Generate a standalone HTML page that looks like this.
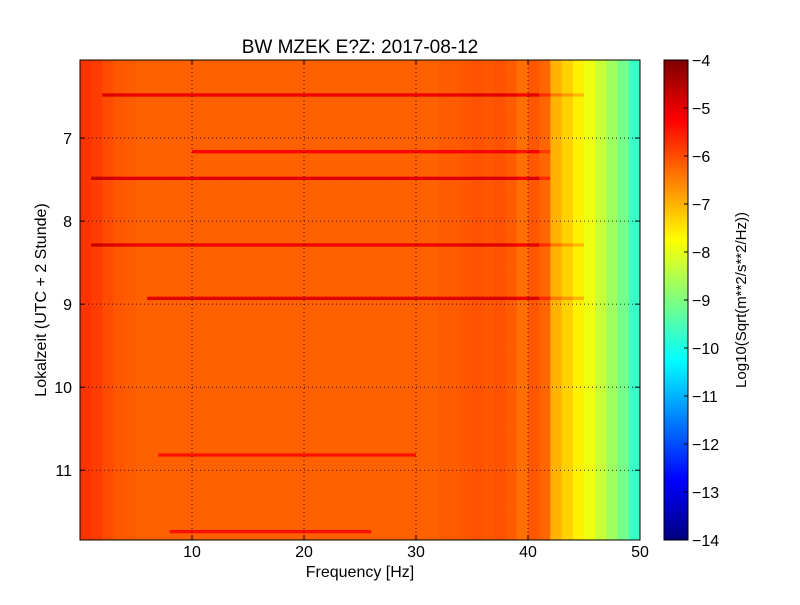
<!DOCTYPE html>
<html><head><meta charset="utf-8">
<style>
body{margin:0;background:#fff;}
#wrap{position:relative;width:800px;height:600px;font-family:"Liberation Sans",sans-serif;}
svg text{font-family:"Liberation Sans",sans-serif;}
</style></head>
<body>
<div id="wrap">
<svg id="svg" width="800" height="600" xmlns="http://www.w3.org/2000/svg">
<rect x="0" y="0" width="800" height="600" fill="#ffffff"/>
<g id="cells"></g>
<g id="cbar"></g>
<g id="axes"></g>
</svg>
</div>
<script>
// Data
const freqProfile = [-5.75,-5.85,-6.0,-6.1,-6.15,-6.2,-6.2,-6.2,-6.2,-6.2,
 -6.2,-6.2,-6.2,-6.2,-6.2,-6.2,-6.2,-6.2,-6.2,-6.2,
 -6.2,-6.2,-6.2,-6.2,-6.2,-6.2,-6.2,-6.2,-6.2,-6.2,
 -6.2,-6.2,-6.15,-6.15,-6.1,-6.05,-6.1,-6.05,-6.15,-6.35,
 -6.1,-6.25,-7.0,-7.3,-7.6,-7.9,-8.3,-8.7,-9.1,-9.7];
const lineTimes = [6.5, 7.16, 7.5, 8.28, 8.93, 10.82, 11.72];
const lineStart = [2, 10, 1, 1, 6, 7, 8];
const lineEnd = [45, 42, 42, 45, 45, 30, 26];
const lineStrength = [1.1, 0.9, 1.2, 1.1, 1.2, 0.8, 0.8];
const xTicks = [10, 20, 30, 40, 50];
const yTicks = [7, 8, 9, 10, 11];
const cTicks = [-4,-5,-6,-7,-8,-9,-10,-11,-12,-13,-14];

const X0=80,X1=640,Y0=60,Y1=540;
const F0=0,F1=50,T0=6.06,T1=11.84;
const xs=f=>X0+(f-F0)/(F1-F0)*(X1-X0);
const ys=t=>Y0+(t-T0)/(T1-T0)*(Y1-Y0);
const V0=-14,V1=-4;
function jet(v){
  let x=(v-V0)/(V1-V0); x=Math.max(0,Math.min(1,x));
  const c=t=>Math.round(255*Math.max(0,Math.min(1,t)));
  const r=c(Math.min(4*x-1.5,-4*x+4.5)),g=c(Math.min(4*x-0.5,-4*x+3.5)),b=c(Math.min(4*x+0.5,-4*x+2.5));
  return `rgb(${r},${g},${b})`;
}
const NS="http://www.w3.org/2000/svg";
function mk(tag,attrs,parent){const e=document.createElementNS(NS,tag);for(const k in attrs)e.setAttribute(k,attrs[k]);parent.appendChild(e);return e;}
const cells=document.getElementById('cells');
const nRows=144, dt=(T1-T0)/nRows;
for(let r=0;r<nRows;r++){
  const t=T0+r*dt;
  for(let i=0;i<freqProfile.length;i++){
    let v=freqProfile[i];
    for(let k=0;k<lineTimes.length;k++){
      if(Math.abs(t+dt/2-lineTimes[k])<dt*0.5 && i>=lineStart[k] && i<lineEnd[k]){
        const fade = i>40 ? 0.5 : 1;
        v+=lineStrength[k]*fade;
      }
    }
    const rc=mk('rect',{x:xs(i),y:ys(t),width:xs(i+1)-xs(i)+0.5,height:ys(t+dt)-ys(t)+0.5,fill:jet(v)},cells);
    
    
  }
}
// colorbar
const cb=document.getElementById('cbar');
const CX=664,CW=24;
for(let j=0;j<240;j++){
  const v=V1-(j+0.5)/240*(V1-V0);
  mk('rect',{x:CX,y:Y0+j*2,width:CW,height:2.5,fill:jet(v)},cb);
}
mk('rect',{x:CX,y:Y0,width:CW,height:Y1-Y0,fill:'none',stroke:'#000','stroke-width':1},cb);
cTicks.forEach(v=>{
  const y=Y0+(V1-v)/(V1-V0)*(Y1-Y0);
  mk('line',{x1:CX+CW-4,x2:CX+CW,y1:y,y2:y,stroke:'#000'},cb);
  const t=mk('text',{x:CX+CW+4,y:y+6,'font-size':16},cb);t.textContent='\u2212'+Math.abs(v);
  
  
});
const cl=mk('text',{x:746,y:300,'font-size':15,'text-anchor':'middle',transform:'rotate(-90 746 300)'},cb);
cl.textContent='Log10(Sqrt(m**2/s**2/Hz))';


// axes
const ax=document.getElementById('axes');
xTicks.forEach(f=>{
  const x=xs(f);
  if(f<F1) mk('line',{x1:x,x2:x,y1:Y0,y2:Y1,stroke:'#000','stroke-dasharray':'1,3','stroke-width':0.8},ax);
  mk('line',{x1:x,x2:x,y1:Y1,y2:Y1-5,stroke:'#000'},ax);
  mk('line',{x1:x,x2:x,y1:Y0,y2:Y0+5,stroke:'#000'},ax);
  const t=mk('text',{x:x,y:Y1+17,'font-size':16,'text-anchor':'middle'},ax);t.textContent=f;
  
  
});
yTicks.forEach(v=>{
  const y=ys(v);
  mk('line',{x1:X0,x2:X1,y1:y,y2:y,stroke:'#000','stroke-dasharray':'1,3','stroke-width':0.8},ax);
  mk('line',{x1:X0,x2:X0+5,y1:y,y2:y,stroke:'#000'},ax);
  mk('line',{x1:X1,x2:X1-5,y1:y,y2:y,stroke:'#000'},ax);
  const t=mk('text',{x:X0-8,y:y+6,'font-size':16,'text-anchor':'end'},ax);t.textContent=v;
  
  
});
mk('rect',{x:X0,y:Y0,width:X1-X0,height:Y1-Y0,fill:'none',stroke:'#000','stroke-width':1},ax);
const ti=mk('text',{x:360,y:53,'font-size':19,'text-anchor':'middle'},ax);ti.textContent='BW MZEK E?Z: 2017-08-12';


const xl=mk('text',{x:360,y:577,'font-size':16,'text-anchor':'middle'},ax);xl.textContent='Frequency [Hz]';


const yl=mk('text',{x:46,y:300,'font-size':16,'text-anchor':'middle',transform:'rotate(-90 46 300)'},ax);yl.textContent='Lokalzeit (UTC + 2 Stunde)';


</script>
</body></html>
